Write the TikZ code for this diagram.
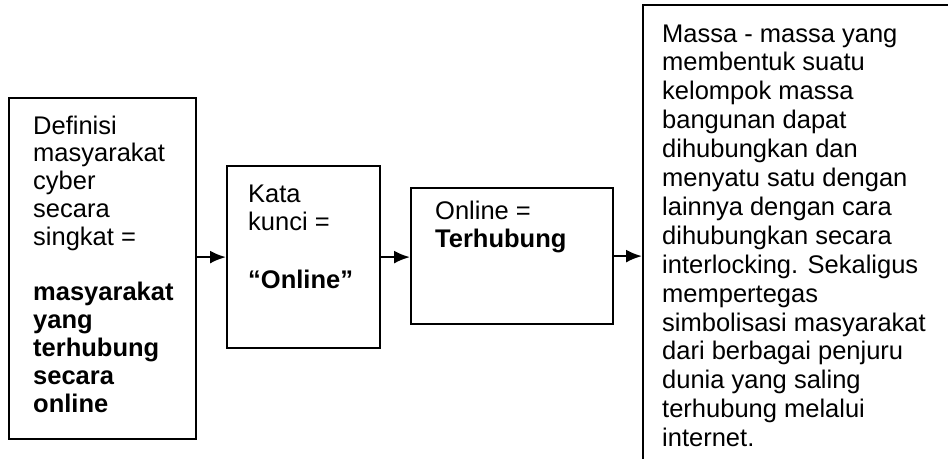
\documentclass[tikz,border=0pt]{standalone}
\usepackage{fontspec}
\setmainfont{Liberation Sans}
\usetikzlibrary{arrows.meta}
\tikzset{
  flowbox/.style={draw=black, line width=2.2pt, inner sep=0pt, anchor=north west},
  flowtext/.style={anchor=base west, align=left, inner sep=0pt,
                   font=\fontsize{25.5}{#1}\selectfont},
  flowtext/.default=28.9pt,
  arr/.style={-{Latex[length=16pt, width=13pt]}, line width=2.2pt},
}
\begin{document}
\begin{tikzpicture}[x=1pt, y=-1pt]
  \useasboundingbox (0,0) rectangle (948,458);

  %% Box 1: definition (text placed at the baseline of its last line)
  \node[flowbox, minimum width=187pt, minimum height=341pt] (defbox) at (8,97) {};
  \node[flowtext=27.8pt] (deftext) at (33,412) {Definisi\\masyarakat\\cyber\\secara\\singkat =\\[\baselineskip]
    \textbf{masyarakat}\\\textbf{yang}\\\textbf{terhubung}\\\textbf{secara}\\\textbf{online}};

  %% Box 2: keyword
  \node[flowbox, minimum width=153pt, minimum height=182pt] (kuncibox) at (226,165) {};
  \node[flowtext] (kuncitext) at (248,288.7) {Kata\\kunci =\\[\baselineskip]\textbf{“Online”}};

  %% Box 3: meaning
  \node[flowbox, minimum width=202pt, minimum height=136pt] (onlinebox) at (410,187) {};
  \node[flowtext] (onlinetext) at (435,247.9) {Online =\\\textbf{Terhubung}};

  %% Box 4: explanation (runs past the page edge)
  \node[flowbox, minimum width=330pt, minimum height=480pt] (massabox) at (642,4) {};
  \node[flowtext] (massatext) at (662,446.6) {Massa - massa yang\\membentuk suatu\\kelompok massa\\
    bangunan dapat\\dihubungkan dan\\menyatu satu dengan\\lainnya dengan cara\\
    dihubungkan secara\\interlocking. Sekaligus\\mempertegas\\simbolisasi masyarakat\\
    dari berbagai penjuru\\dunia yang saling\\terhubung melalui\\internet.};

  % arrows between the boxes
  \draw[arr] (defbox.east |- kuncibox.west) -- (kuncibox.west);
  \draw[arr] (kuncibox.east) -- (kuncibox.east -| onlinebox.west);
  \draw[arr] (onlinebox.east) -- (onlinebox.east -| massabox.west);

\end{tikzpicture}
\end{document}
